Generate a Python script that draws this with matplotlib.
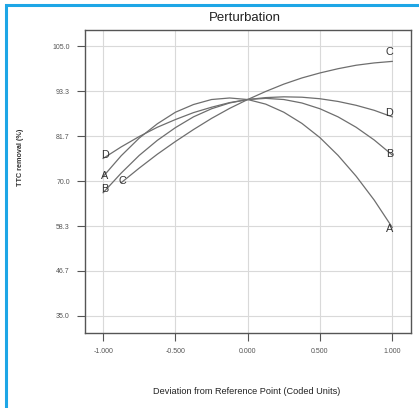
import matplotlib
matplotlib.use("Agg")
import matplotlib.pyplot as plt
from matplotlib.patches import Rectangle

plt.rcParams['font.family'] = ['Liberation Sans', 'DejaVu Sans']

# coded deviation from reference point
x_full = [-1.0, -0.875, -0.75, -0.625, -0.5, -0.375, -0.25, -0.125, 0.0,
          0.125, 0.25, 0.375, 0.5, 0.625, 0.75, 0.875, 1.0]
x_c = x_full[1:]

# TTC removal (%)
ttc_a = [71.2, 76.6, 81.2, 84.9, 87.9, 89.9, 91.2, 91.6, 91.2,
         90.0, 87.9, 85.0, 81.3, 76.7, 71.3, 65.1, 58.0]
ttc_b = [67.0, 72.1, 76.7, 80.6, 83.9, 86.7, 88.8, 90.3, 91.2,
         91.5, 91.2, 90.3, 88.8, 86.7, 84.0, 80.7, 76.8]
ttc_c = [69.6, 73.4, 77.0, 80.3, 83.4, 86.3, 88.9, 91.2,
         93.3, 95.2, 96.8, 98.1, 99.2, 100.1, 100.7, 101.1]
ttc_d = [75.9, 78.9, 81.6, 84.0, 86.0, 87.8, 89.2, 90.4, 91.2,
         91.7, 91.9, 91.8, 91.4, 90.7, 89.7, 88.4, 86.7]

factors = ['A', 'B', 'C', 'D']
y_ticks = [35.0, 46.7, 58.3, 70.0, 81.7, 93.3, 105.0]
x_ticks = [-1.0, -0.5, 0.0, 0.5, 1.0]

fig = plt.figure(figsize=(4.19, 4.08), dpi=100)
ax = fig.add_axes([0.203, 0.184, 0.778, 0.742])

curves = {'A': (x_full, ttc_a), 'B': (x_full, ttc_b),
          'C': (x_c, ttc_c), 'D': (x_full, ttc_d)}
line_col = '#6e6e6e'
for f in factors:
    xs, ys = curves[f]
    ax.plot(xs, ys, color=line_col, lw=0.9, zorder=3)

# factor letters at the line ends
left_off = {'A': (1, 0.5), 'B': (1, 3), 'C': (1, 1), 'D': (1, 2.5)}
right_off = {'A': (-2, -1), 'B': (-2, 0.5), 'C': (-2, 6.5), 'D': (-2, 2.5)}
for f in factors:
    xs, ys = curves[f]
    ax.annotate(f, (xs[0], ys[0]), xytext=left_off[f], textcoords='offset points',
                ha='center', va='center', fontsize=7.8, color='#333333', zorder=4)
    ax.annotate(f, (xs[-1], ys[-1]), xytext=right_off[f], textcoords='offset points',
                ha='center', va='center', fontsize=7.8, color='#333333', zorder=4)

ax.set_xlim(-1.125, 1.13)
ax.set_ylim(30.6, 109.2)
ax.set_xticks(x_ticks)
ax.set_xticklabels([f'{v:.3f}' for v in x_ticks])
ax.set_yticks(y_ticks)
ax.set_yticklabels([f'{v:.1f}' for v in y_ticks])
ax.grid(True, color='#d9d9d9', lw=0.8, zorder=0)
ax.tick_params(direction='out', length=6, width=0.8, color='#555555',
               labelsize=5, labelcolor='#555555', pad=5)
for s in ax.spines.values():
    s.set_color('#555555')
    s.set_linewidth(1.0)

fig.text(245 / 419, 1 - 18 / 408, 'Perturbation', ha='center', va='center',
         fontsize=9.5, color='#222222')
fig.text(247 / 419, 1 - 392 / 408, 'Deviation from Reference Point (Coded Units)',
         ha='center', va='center', fontsize=6.6, color='#222222')
fig.text(20 / 419, 1 - 157 / 408, 'TTC removal (%)', rotation=90, ha='center',
         va='center', fontsize=5.2, fontweight='bold', color='#333333')

# blue frame around the picture
fig.patches.append(Rectangle((5.5 / 419, -0.1), 2, 1.1 - 5.5 / 408,
                             transform=fig.transFigure, fill=False,
                             edgecolor='#1ea6e6', lw=2.2))

fig.savefig('out.png', dpi=100)
